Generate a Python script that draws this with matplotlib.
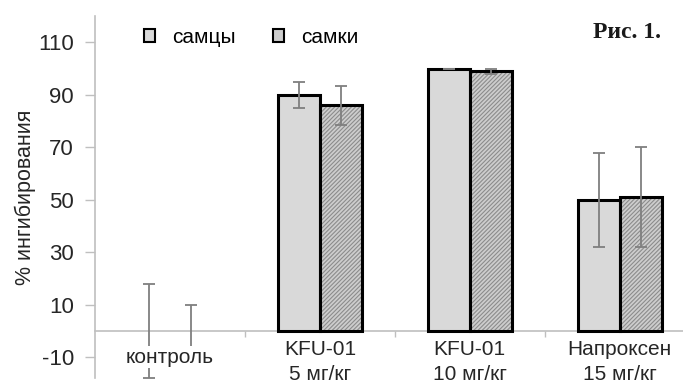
import matplotlib
matplotlib.use("Agg")
import numpy as np
import matplotlib.pyplot as plt
from matplotlib.patches import Patch

categories = ["контроль", "KFU-01\n5 мг/кг", "KFU-01\n10 мг/кг", "Напроксен\n15 мг/кг"]
males = [0, 90, 100, 50]
males_err = [18, 5, 0, 18]
females = [0, 86, 99, 51]
females_err = [10, 7.5, 1, 19]
yticks = [-10, 10, 30, 50, 70, 90, 110]

plt.rcParams['font.family'] = ['Liberation Sans', 'DejaVu Sans']
plt.rcParams['axes.unicode_minus'] = False
plt.rcParams['hatch.linewidth'] = 0.8

fig = plt.figure(figsize=(6.83, 3.85), dpi=100)
ax = fig.add_axes([0.139, 0.018, 0.878, 0.94])

x = np.arange(len(categories))
w = 0.28
grey_axis = '#bfbfbf'
err_col = '#7f7f7f'
text_col = '#262626'

# no outline for empty (zero) bars
lw_m = [0 if v == 0 else 2.2 for v in males]
lw_f = [0 if v == 0 else 2.2 for v in females]

# males: plain light grey
ax.bar(x - w / 2, males, w, color='#d9d9d9', edgecolor='black', linewidth=lw_m, zorder=2)
# females: hatched grey, hatch drawn first then black outline
ax.bar(x + w / 2, females, w, color='#cdcdcd', edgecolor='#8c8c8c', hatch='////////',
       linewidth=0, zorder=2)
ax.bar(x + w / 2, females, w, color='none', edgecolor='black', linewidth=lw_f, zorder=3)

ax.errorbar(x - w / 2, males, yerr=males_err, fmt='none', ecolor=err_col,
            elinewidth=1.3, capsize=4, capthick=1.3, zorder=4)
ax.errorbar(x + w / 2, females, yerr=females_err, fmt='none', ecolor=err_col,
            elinewidth=1.3, capsize=4, capthick=1.3, zorder=4)

ax.set_xlim(-0.5, 3.5)
ax.set_ylim(-18, 120)
ax.set_yticks(yticks)
ax.tick_params(axis='y', labelsize=16, colors=grey_axis, labelcolor=text_col,
               length=7, width=1, direction='out', pad=8)
ax.set_xticks([0.5, 1.5, 2.5])
ax.set_xticklabels([])
ax.tick_params(axis='x', colors=grey_axis, length=4, width=1, direction='out')

for s in ['top', 'right']:
    ax.spines[s].set_visible(False)
ax.spines['left'].set_color(grey_axis)
ax.spines['left'].set_linewidth(1.2)
ax.spines['bottom'].set_position(('data', 0))
ax.spines['bottom'].set_color(grey_axis)
ax.spines['bottom'].set_linewidth(1.2)
ax.spines['bottom'].set_zorder(1)

for i, lab in enumerate(categories):
    y0 = -6.5 if i == 0 else -3.5
    ax.text(i, y0, lab, ha='center', va='top', fontsize=15, color=text_col,
            linespacing=1.38, zorder=5,
            bbox=dict(facecolor='white', edgecolor='none', pad=1))

ax.set_ylabel("% ингибирования", fontsize=15.5, color=text_col, labelpad=2)

handles = [Patch(facecolor='#d9d9d9', edgecolor='black', linewidth=1.5),
           Patch(facecolor='#cdcdcd', edgecolor='black', linewidth=1.5)]
ax.legend(handles, ["самцы", "самки"], ncol=2, loc='upper left',
          bbox_to_anchor=(0.05, 1.02), frameon=False, fontsize=15,
          handlelength=0.55, handleheight=0.55, handletextpad=0.8, columnspacing=1.8)

fig.text(0.868, 0.9, "Рис. 1.", fontsize=17, fontweight='bold',
         family=['Liberation Serif', 'DejaVu Serif'], color='#1a1a1a')

fig.savefig("out.png", dpi=100, facecolor='white')
